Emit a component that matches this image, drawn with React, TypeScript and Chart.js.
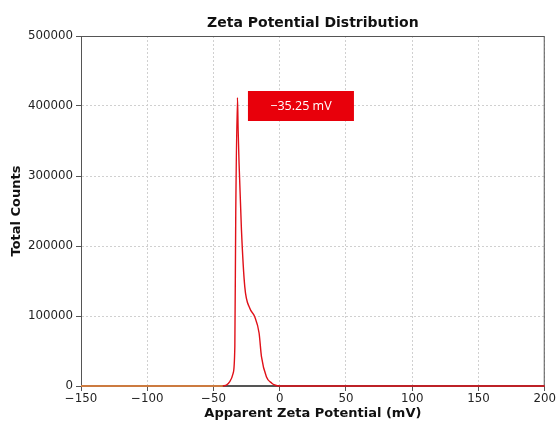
import React, { useEffect, useRef } from "react";
import { Chart, registerables } from "chart.js";

Chart.register(...registerables);

// Baseline segment (orange)
const baseX = [-150, -43];
const baseY = [0, 0];

// Main distribution (red)
const curveX = [-43, -40, -37.7, -35.2, -33.9, -33.2, -31.9, -31.4, -30.7, -28.9, -26.4, -22.6, -18.9, -15.6, -13.8, -10, -6, -3.8, 0, 200];
const curveY = [0, 1500, 6100, 18000, 56000, 247000, 412000, 365000, 318000, 223000, 142000, 111000, 99000, 75700, 42000, 13000, 4000, 1400, 0, 0];

const xTicks = [-150, -100, -50, 0, 50, 100, 150, 200];
const yTicks = [0, 100000, 200000, 300000, 400000, 500000];

const peakLabel = "\u221235.25 mV";
const peakLabelPos = { x: 16, y: 400000 };

const fmt = (v: number) => (v < 0 ? "\u2212" + Math.abs(v) : String(v));

export default function App() {
  const ref = useRef<HTMLCanvasElement | null>(null);
  useEffect(() => {
    if (!ref.current) return;
    const frame = {
      id: "frame",
      beforeDatasetsDraw(chart: any) {
        const { ctx, chartArea: a } = chart;
        ctx.save();
        ctx.strokeStyle = "#555";
        ctx.lineWidth = 1;
        ctx.strokeRect(a.left + 0.5, a.top + 0.5, a.right - a.left - 1, a.bottom - a.top - 1);
        ctx.restore();
      },
      afterDatasetsDraw(chart: any) {
        const { ctx } = chart;
        ctx.save();
        const px = chart.scales.x.getPixelForValue(peakLabelPos.x);
        const py = chart.scales.y.getPixelForValue(peakLabelPos.y);
        const w = 106, h = 30;
        ctx.fillStyle = "#e8000b";
        ctx.fillRect(px - w / 2, py - h / 2, w, h);
        ctx.fillStyle = "#ffffff";
        ctx.font = "12.5px 'Open Sans', 'DejaVu Sans', sans-serif";
        ctx.textAlign = "center";
        ctx.textBaseline = "middle";
        ctx.fillText(peakLabel, px, py);
        ctx.restore();
      },
    };
    const tickFont = { family: "'DejaVu Sans', sans-serif", size: 11.8 };
    const gridCfg: any = {
      color: "#d0d0d0",
      tickBorderDash: [],
      tickColor: "#555",
      tickLength: 5,
      drawTicks: true,
    };
    const chart = new Chart(ref.current, {
      type: "line",
      data: {
        datasets: [
          {
            data: baseX.map((x, i) => ({ x, y: baseY[i] })),
            borderColor: "#f5883a",
            borderWidth: 1.5,
            pointRadius: 0,
            clip: 3,
          },
          {
            data: curveX.map((x, i) => ({ x, y: curveY[i] })),
            borderColor: "#e01018",
            borderWidth: 1.4,
            pointRadius: 0,
            cubicInterpolationMode: "monotone",
            clip: 3,
          },
        ],
      },
      options: {
        animation: false,
        responsive: true,
        maintainAspectRatio: false,
        layout: { padding: { left: 0, right: 12, top: 0, bottom: 0 } },
        plugins: {
          legend: { display: false },
          tooltip: { enabled: false },
          title: {
            display: true,
            text: "Zeta Potential Distribution",
            fullSize: false,
            color: "#111",
            font: { family: "'DejaVu Sans', sans-serif", size: 14, weight: "bold" },
            padding: { top: 14.5, bottom: 4.7 },
          },
        },
        scales: {
          x: {
            type: "linear",
            min: -150,
            max: 200,
            afterBuildTicks: (s: any) => {
              s.ticks = xTicks.map((v) => ({ value: v }));
            },
            afterFit: (s: any) => {
              s.height = 35;
            },
            ticks: {
              color: "#222",
              font: tickFont,
              padding: 1,
              maxRotation: 0,
              autoSkip: false,
              callback: (v: any) => fmt(Number(v)),
            },
            grid: gridCfg,
            border: { display: true, color: "#555", dash: [2, 2] },
            title: {
              display: true,
              text: "Apparent Zeta Potential (mV)",
              color: "#111",
              font: { family: "'DejaVu Sans', sans-serif", size: 13, weight: "bold" },
              padding: { top: 0, bottom: 0 },
            },
          },
          y: {
            type: "linear",
            min: 0,
            max: 500000,
            afterBuildTicks: (s: any) => {
              s.ticks = yTicks.map((v) => ({ value: v }));
            },
            afterFit: (s: any) => {
              s.width = 81;
            },
            ticks: {
              color: "#222",
              font: tickFont,
              padding: 3,
              autoSkip: false,
              callback: (v: any) => String(v),
            },
            grid: gridCfg,
            border: { display: true, color: "#555", dash: [2, 2] },
            title: {
              display: true,
              text: "Total Counts",
              color: "#111",
              font: { family: "'DejaVu Sans', sans-serif", size: 13, weight: "bold" },
              padding: { top: 9, bottom: 0 },
            },
          },
        },
      } as any,
      plugins: [frame],
    });
    return () => chart.destroy();
  }, []);
  return (
    <div style={{ position: "fixed", left: 0, top: 0, width: 557, height: 421, background: "#fff" }}>
      <canvas ref={ref} />
    </div>
  );
}
